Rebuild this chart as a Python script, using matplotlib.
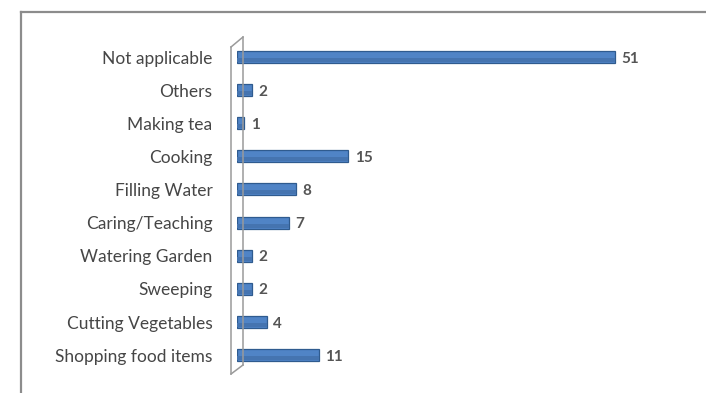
import matplotlib.pyplot as plt
from matplotlib.lines import Line2D

# Activities and counts (top to bottom as shown)
categories = ["Not applicable", "Others", "Making tea", "Cooking", "Filling Water",
              "Caring/Teaching", "Watering Garden", "Sweeping", "Cutting Vegetables",
              "Shopping food items"]
counts = [51, 2, 1, 15, 8, 7, 2, 2, 4, 11]

W, H = 706, 393
fig = plt.figure(figsize=(W / 100, H / 100), dpi=100)
fig.patch.set_facecolor("white")

def px(x, y):
    # pixel position (from top-left) -> figure fraction
    return x / W, 1 - y / H

# axes placed so bars start at ~236 px and rows sit at ~57..355 px
ax_left, ax_right = 237, 237 + 60 * 7.42
ax_top, ax_bot = 40.5, 371.5
ax = fig.add_axes([ax_left / W, 1 - ax_bot / H, (ax_right - ax_left) / W, (ax_bot - ax_top) / H])
ax.set_xlim(0, 60)
ax.set_ylim(len(categories) - 0.5, -0.5)
ax.axis("off")

# 3D wall on the left
wall = dict(color="#9a9a9a", lw=1.1, transform=fig.transFigure)
for (x0, y0), (x1, y1) in [((231, 47), (231, 374)), ((231, 47), (243, 37)),
                           ((243, 37), (243, 365)), ((231, 374), (243, 365))]:
    a, b = px(x0, y0), px(x1, y1)
    fig.add_artist(Line2D([a[0], b[0]], [a[1], b[1]], **wall))

# chart border (top and left only visible)
border = dict(color="#8c8c8c", lw=1.6, transform=fig.transFigure)
a, b = px(21, 12), px(706, 12)
fig.add_artist(Line2D([a[0], b[0]], [a[1], b[1]], **border))
a, b = px(21, 12), px(21, 393)
fig.add_artist(Line2D([a[0], b[0]], [a[1], b[1]], **border))

ypos = list(range(len(categories)))
# cylinder-ish bars: base with a soft darker lower half
ax.barh(ypos, counts, height=0.36, color="#5084c6", edgecolor="#2f5b8f", linewidth=0.9, zorder=3)
ax.barh([y + 0.09 for y in ypos], counts, height=0.12, color="#4574b0", linewidth=0, zorder=4)

for y, v in zip(ypos, counts):
    ax.text(v + 0.85, y + 0.05, str(v), va="center", ha="left", fontsize=11,
            color="#555555", family="Lato", fontweight="bold")

for y, lab in zip(ypos, categories):
    ax.text(-3.3, y + 0.05, lab, va="center", ha="right", fontsize=12.5,
            color="#464646", family="Lato")

fig.savefig("out.png", dpi=100)
